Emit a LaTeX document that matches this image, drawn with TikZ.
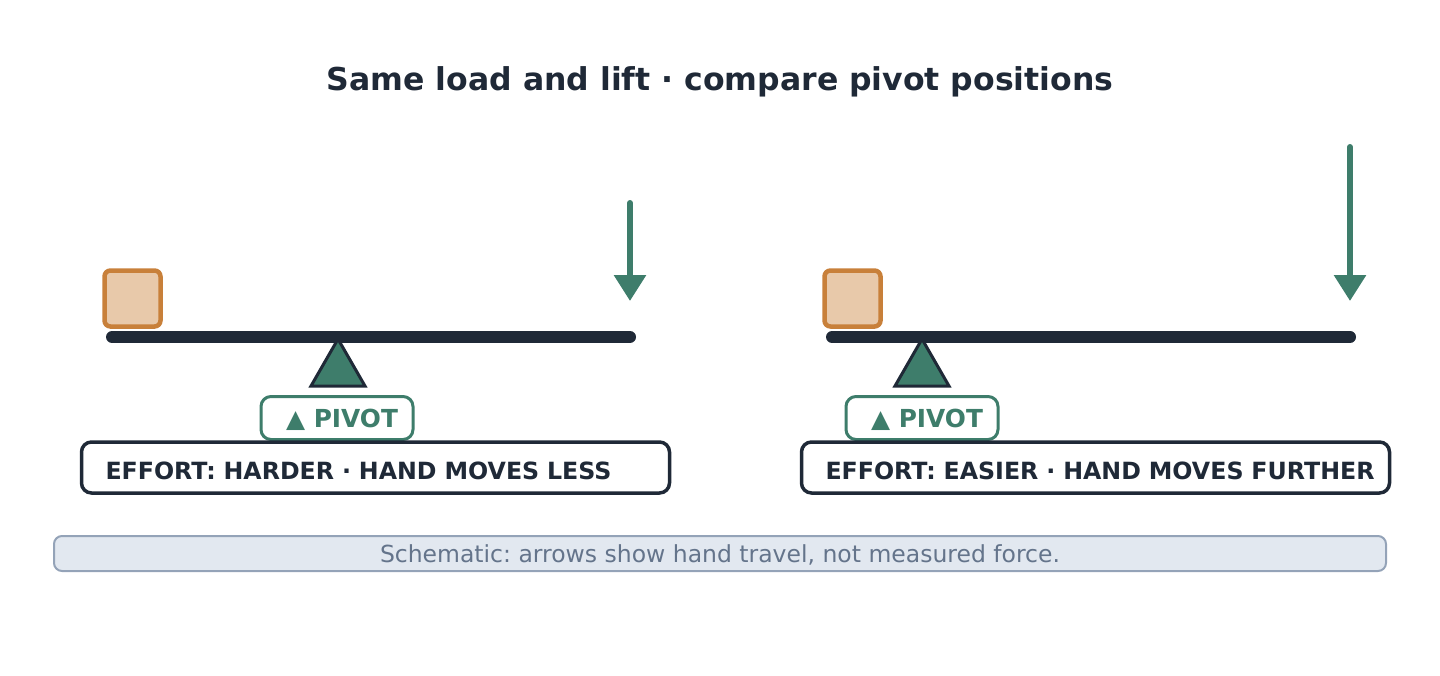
\documentclass[tikz,border=0pt]{standalone}
\usepackage{fontspec}
\setmainfont{DejaVu Sans}
\usetikzlibrary{arrows.meta}
\frenchspacing
\definecolor{ink}{HTML}{1F2937}
\definecolor{pivgreen}{HTML}{3E7D6B}
\definecolor{loadstroke}{HTML}{C8803A}
\definecolor{loadfill}{HTML}{E8C9AA}
\definecolor{notefill}{HTML}{E2E8F0}
\definecolor{notestroke}{HTML}{94A3B8}
\definecolor{notetext}{HTML}{64748B}
\tikzset{
  beam/.style={draw=ink, line width=12pt, line cap=round},
  loadbox/.style={draw=loadstroke, fill=loadfill, line width=4.5pt, rounded corners=6pt,
    minimum width=56pt, minimum height=56pt, inner sep=0pt},
  fulcrum/.style={draw=ink, fill=pivgreen, line width=3pt, line join=miter},
  pivotbox/.style={draw=pivgreen, line width=3pt, rounded corners=10pt, fill=white,
    minimum width=152pt, minimum height=43pt, inner sep=0pt, text=pivgreen,
    font=\bfseries\fontsize{24.8}{28}\selectfont, text height=18pt, text depth=0pt},
  effortbox/.style={draw=ink, line width=3.5pt, rounded corners=10pt, fill=white,
    minimum height=51pt, text width=540pt, inner xsep=24pt, inner ysep=0pt, align=left, text=ink,
    font=\bfseries\fontsize{23.7}{28}\selectfont, text height=24.3pt, text depth=0pt},
  push/.style={draw=pivgreen, line width=6pt, line cap=round, -{Triangle[width=31pt,length=26pt]}},
  notebox/.style={draw=notestroke, fill=notefill, line width=2pt, rounded corners=8pt,
    minimum width=1332pt, minimum height=35pt, inner sep=0pt, text=notetext,
    font=\fontsize{23.5}{28}\selectfont, text height=17pt, text depth=0pt},
  titletext/.style={text=ink, font=\bfseries\fontsize{31.5}{36}\selectfont, text height=23pt, text depth=0pt, inner sep=0pt}
}
\begin{document}
\begin{tikzpicture}[x=1pt,y=-1pt]
\path[use as bounding box] (0,0) rectangle (1440,675);

\node[titletext] (title) at (720,78.7) {Same load and lift · compare pivot positions};

% ---- left lever ----
\coordinate (bL1) at (112,337);
\coordinate (bL2) at (630,337);
\draw[beam] (bL1) -- (bL2);
\node[loadbox] (loadL) at (132.5,298.5) {};
\coordinate (tL) at (338,339);
\draw[fulcrum] (tL) -- (365,386) -- (311,386) -- cycle;
\node[pivotbox] (pivL) at (337,418) {\hspace*{10pt}▲ PIVOT};
\node[effortbox] (effL) at (375.5,467.5) {\mbox{EFFORT: HARDER · HAND MOVES LESS}};
\coordinate (aL1) at (630,203);
\coordinate (aL2) at (630,301);
\draw[push] (aL1) -- (aL2);

% ---- right lever ----
\coordinate (bR1) at (832,337);
\coordinate (bR2) at (1350,337);
\draw[beam] (bR1) -- (bR2);
\node[loadbox] (loadR) at (852.5,298.5) {};
\coordinate (tR) at (922,339);
\draw[fulcrum] (tR) -- (949,386) -- (895,386) -- cycle;
\node[pivotbox] (pivR) at (922,418) {\hspace*{10pt}▲ PIVOT};
\node[effortbox] (effR) at (1095.5,467.5) {\mbox{EFFORT: EASIER · HAND MOVES FURTHER}};
\coordinate (aR1) at (1350,147);
\coordinate (aR2) at (1350,301);
\draw[push] (aR1) -- (aR2);

% ---- note ----
\node[notebox] (note) at (720,553.5) {Schematic: arrows show hand travel, not measured force.};
\end{tikzpicture}
\end{document}
